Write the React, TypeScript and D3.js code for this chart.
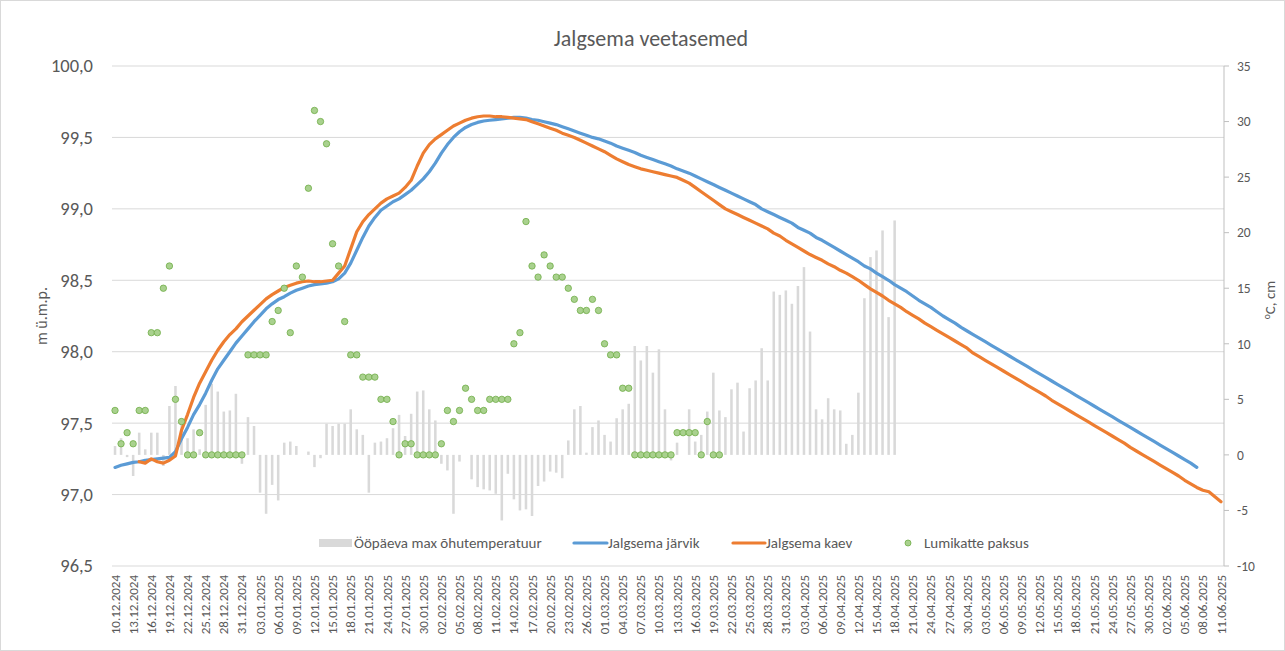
import React from "react";
import * as d3 from "d3";

// kuupäevad (päevane samm) 10.12.2024 – 11.06.2025
const paevad = d3.timeDay.range(new Date(2024, 11, 10), new Date(2025, 5, 12));
const kuupaevad = paevad.map(d3.timeFormat("%d.%m.%Y"));
const tickLabels = kuupaevad.filter((_, i) => i % 3 === 0);

const leftTicks = [96.5, 97, 97.5, 98, 98.5, 99, 99.5, 100];
const rightTicks = [-10, -5, 0, 5, 10, 15, 20, 25, 30, 35];

// Ööpäeva max õhutemperatuur, alates 10.12.2024
const temperatuur = [
  0.8, 1.5, -0.2, -1.9, 2.0, 0.5, 2.0, 2.0, -1.0, 4.4,
  6.2, 3.3, 1.5, 2.3, 0.5, 4.5, 6.4, 5.7, 3.9, 4.0,
  5.5, -0.8, 3.4, 2.6, -3.4, -5.3, -2.7, -4.1, 1.1, 1.2,
  0.8, 0, 0.3, -1.1, -0.3, 2.8, 2.6, 2.8, 2.8, 4.1,
  2.3, 1.8, -3.4, 1.1, 1.2, 1.5, 2.4, 3.6, 1.7, 3.7,
  5.7, 5.8, 4.1, 3.1, -0.8, -1.4, -5.3, -0.6, 0, -2.2,
  -2.9, -3.1, -3.2, -3.5, -5.9, -1.7, -4.0, -5.0, -4.9, -5.5,
  -2.8, -2.4, -1.5, -1.6, -2.1, 1.3, 4.1, 4.4, 0.2, 2.5,
  3.1, 1.8, 1.2, 3.3, 4.1, 4.6, 9.8, 8.5, 9.8, 7.4,
  9.5, 4.1, -0.5, 1.1, 0, 4.1, 1.2, 1.8, 3.9, 7.4,
  4.0, 3.4, 5.9, 6.5, 2.1, 6.0, 6.7, 9.6, 6.7, 14.7,
  14.4, 14.8, 13.6, 15.2, 16.9, 11.1, 4.1, 3.2, 5.1, 4.1,
  4.0, 1.0, 1.8, 5.6, 14.1, 17.8, 18.4, 20.2, 12.4, 21.1,
];

// Lumikatte paksus (cm), alates 10.12.2024
const lumi = [
  4, 1, 2, 1, 4, 4, 11, 11, 15, 17,
  5, 3, 0, 0, 2, 0, 0, 0, 0, 0,
  0, 0, 9, 9, 9, 9, 12, 13, 15, 11,
  17, 16, 24, 31, 30, 28, 19, 17, 12, 9,
  9, 7, 7, 7, 5, 5, 3, 0, 1, 1,
  0, 0, 0, 0, 1, 4, 3, 4, 6, 5,
  4, 4, 5, 5, 5, 5, 10, 11, 21, 17,
  16, 18, 17, 16, 16, 15, 14, 13, 13, 14,
  13, 10, 9, 9, 6, 6, 0, 0, 0, 0,
  0, 0, 0, 2, 2, 2, 2, 0, 3, 0,
  0,
];

// Jalgsema järvik (m ü.m.p.), alates 10.12.2024
const jarvik = [
  97.19, 97.205, 97.215, 97.225, 97.23, 97.24, 97.245, 97.25, 97.255, 97.26,
  97.30, 97.39, 97.47, 97.56, 97.63, 97.71, 97.80, 97.88, 97.94, 98.00,
  98.06, 98.11, 98.16, 98.21, 98.255, 98.30, 98.335, 98.365, 98.385, 98.41,
  98.43, 98.445, 98.46, 98.47, 98.475, 98.48, 98.49, 98.51, 98.55, 98.62,
  98.71, 98.80, 98.88, 98.94, 98.99, 99.02, 99.05, 99.07, 99.10, 99.13,
  99.17, 99.21, 99.26, 99.32, 99.39, 99.45, 99.50, 99.54, 99.57, 99.59,
  99.605, 99.615, 99.62, 99.625, 99.63, 99.635, 99.64, 99.64, 99.635, 99.625,
  99.62, 99.61, 99.60, 99.59, 99.575, 99.56, 99.545, 99.53, 99.515, 99.50,
  99.49, 99.475, 99.46, 99.44, 99.425, 99.41, 99.395, 99.375, 99.36, 99.345,
  99.33, 99.315, 99.30, 99.28, 99.265, 99.25, 99.23, 99.21, 99.19, 99.17,
  99.15, 99.13, 99.11, 99.09, 99.07, 99.05, 99.03, 99.00, 98.98, 98.96,
  98.94, 98.92, 98.90, 98.87, 98.85, 98.83, 98.80, 98.78, 98.755, 98.73,
  98.705, 98.68, 98.655, 98.63, 98.60, 98.58, 98.55, 98.525, 98.50, 98.47,
  98.445, 98.42, 98.39, 98.36, 98.335, 98.31, 98.28, 98.25, 98.225, 98.20,
  98.17, 98.145, 98.12, 98.095, 98.07, 98.045, 98.02, 97.995, 97.97, 97.945,
  97.92, 97.895, 97.87, 97.845, 97.82, 97.795, 97.77, 97.745, 97.72, 97.695,
  97.67, 97.645, 97.62, 97.595, 97.57, 97.545, 97.52, 97.495, 97.47, 97.445,
  97.42, 97.395, 97.37, 97.345, 97.32, 97.295, 97.27, 97.245, 97.22, 97.19,
];

// Jalgsema kaev (m ü.m.p.), alates 14.12.2024
const kaevAlgus = "14.12.2024";
const kaev = [
  97.23, 97.22, 97.25, 97.23, 97.22, 97.24,
  97.27, 97.45, 97.56, 97.68, 97.78, 97.86, 97.94, 98.01, 98.07, 98.12,
  98.16, 98.21, 98.25, 98.29, 98.33, 98.37, 98.40, 98.425, 98.45, 98.465,
  98.48, 98.49, 98.495, 98.49, 98.49, 98.495, 98.50, 98.55, 98.60, 98.72,
  98.84, 98.91, 98.96, 99.00, 99.04, 99.07, 99.09, 99.11, 99.15, 99.20,
  99.30, 99.39, 99.45, 99.49, 99.52, 99.55, 99.58, 99.60, 99.62, 99.635,
  99.645, 99.65, 99.65, 99.645, 99.645, 99.64, 99.635, 99.63, 99.625, 99.61,
  99.595, 99.58, 99.565, 99.55, 99.53, 99.515, 99.50, 99.48, 99.46, 99.44,
  99.42, 99.40, 99.375, 99.35, 99.33, 99.31, 99.295, 99.28, 99.27, 99.26,
  99.25, 99.24, 99.23, 99.22, 99.20, 99.18, 99.15, 99.12, 99.09, 99.06,
  99.03, 99.00, 98.98, 98.96, 98.94, 98.92, 98.90, 98.88, 98.86, 98.83,
  98.81, 98.78, 98.755, 98.73, 98.705, 98.68, 98.66, 98.64, 98.615, 98.595,
  98.57, 98.55, 98.525, 98.50, 98.47, 98.44, 98.415, 98.39, 98.36, 98.335,
  98.31, 98.28, 98.255, 98.23, 98.20, 98.175, 98.15, 98.125, 98.10, 98.075,
  98.05, 98.025, 97.99, 97.965, 97.94, 97.915, 97.89, 97.865, 97.84, 97.815,
  97.79, 97.765, 97.74, 97.715, 97.69, 97.66, 97.635, 97.61, 97.585, 97.56,
  97.535, 97.51, 97.485, 97.46, 97.435, 97.41, 97.385, 97.36, 97.33, 97.305,
  97.28, 97.255, 97.23, 97.205, 97.18, 97.155, 97.13, 97.10, 97.075, 97.05,
  97.03, 97.02, 96.985, 96.95,
];

const W = 1285;
const H = 651;
const plot = { left: 112, right: 1224, top: 66, bottom: 566 };
const font = "Carlito, Calibri, Lato, sans-serif";
const textColor = "#595959";
const gridColor = "#d9d9d9";
const blue = "#5b9bd5";
const orange = "#ed7d31";
const barColor = "#d9d9d9";
const dotFill = "#a9d18e";
const dotStroke = "#70ad47";

type Pt = { date: string; v: number };

export default function App() {
  const x = d3.scaleBand<string>().domain(kuupaevad).range([plot.left, plot.right]);
  const bw = x.bandwidth();
  const cx = (d: string) => (x(d) as number) + bw / 2;
  const yL = d3.scaleLinear().domain([96.5, 100]).range([plot.bottom, plot.top]);
  const yR = d3.scaleLinear().domain([-10, 35]).range([plot.bottom, plot.top]);

  const series = (vals: number[], start: number): Pt[] =>
    vals.map((v, i) => ({ date: kuupaevad[start + i], v }));

  const tempPts = series(temperatuur, 0);
  const lumiPts = series(lumi, 0);
  const jarvikPts = series(jarvik, 0);
  const kaevPts = series(kaev, kuupaevad.indexOf(kaevAlgus));

  const line = d3
    .line<Pt>()
    .x((d) => cx(d.date))
    .y((d) => yL(d.v));

  const barW = bw * 0.42;
  const fmtL = (v: number) => v.toFixed(1).replace(".", ",");

  const legendY = 543;
  const legendFont = 15;

  return (
    <svg
      width={W}
      height={H}
      style={{ position: "absolute", left: 0, top: 0, background: "#fff" }}
      fontFamily={font}
    >
      <rect x={0.5} y={0.5} width={W - 1} height={H - 1} fill="#fff" stroke={gridColor} />

      <text x={651} y={46} textAnchor="middle" fontSize={22} fill={textColor}>
        Jalgsema veetasemed
      </text>

      {/* gridlines */}
      {leftTicks.map((t) => (
        <line
          key={t}
          x1={plot.left}
          x2={plot.right}
          y1={yL(t)}
          y2={yL(t)}
          stroke={gridColor}
          strokeWidth={1}
        />
      ))}
      {leftTicks.map((t) => (
        <text
          key={t}
          x={93}
          y={yL(t)}
          dy="0.35em"
          textAnchor="end"
          fontSize={18.5}
          fill={textColor}
        >
          {fmtL(t)}
        </text>
      ))}
      <text
        transform={`translate(41,316) rotate(-90)`}
        textAnchor="middle"
        dy="0.35em"
        fontSize={16}
        fill={textColor}
      >
        m ü.m.p.
      </text>

      {/* right axis */}
      <line x1={plot.right} x2={plot.right} y1={plot.top} y2={plot.bottom} stroke="#bfbfbf" />
      {rightTicks.map((t) => (
        <g key={t}>
          <line x1={plot.right} x2={plot.right + 5} y1={yR(t)} y2={yR(t)} stroke="#bfbfbf" />
          <text x={1237} y={yR(t)} dy="0.35em" fontSize={13.5} fill={textColor}>
            {t}
          </text>
        </g>
      ))}
      <text
        transform={`translate(1273,300) rotate(-90)`}
        textAnchor="middle"
        dy="0.35em"
        fontSize={15}
        fill={textColor}
      >
        <tspan fontSize={9.5} dy="-0.3em">o</tspan>
        <tspan dy="0.3em">C, cm</tspan>
      </text>

      {/* x labels */}
      {tickLabels.map((t) => (
        <text
          key={t}
          transform={`translate(${cx(t)},575) rotate(-90)`}
          textAnchor="end"
          dy="0.35em"
          fontSize={13}
          fill={textColor}
        >
          {t}
        </text>
      ))}

      {/* temperature bars */}
      {tempPts.map((d) =>
        d.v === 0 ? null : (
          <rect
            key={d.date}
            x={cx(d.date) - barW / 2}
            width={barW}
            y={yR(Math.max(0, d.v))}
            height={Math.abs(yR(d.v) - yR(0))}
            fill={barColor}
          />
        )
      )}

      {/* water levels */}
      <path d={line(jarvikPts) || ""} fill="none" stroke={blue} strokeWidth={3.2} strokeLinejoin="round" strokeLinecap="round" />
      <path d={line(kaevPts) || ""} fill="none" stroke={orange} strokeWidth={3.2} strokeLinejoin="round" strokeLinecap="round" />

      {/* snow */}
      {lumiPts.map((d) => (
        <circle
          key={d.date}
          cx={cx(d.date)}
          cy={yR(d.v)}
          r={3.2}
          fill={dotFill}
          stroke={dotStroke}
          strokeWidth={0.8}
        />
      ))}

      {/* legend */}
      <rect x={319} y={legendY - 4} width={33} height={8} fill={barColor} />
      <text x={354} y={legendY} dy="0.35em" fontSize={legendFont} fill={textColor}>
        Ööpäeva max õhutemperatuur
      </text>
      <line x1={574} x2={607} y1={legendY} y2={legendY} stroke={blue} strokeWidth={3.2} strokeLinecap="round" />
      <text x={608} y={legendY} dy="0.35em" fontSize={legendFont} fill={textColor}>
        Jalgsema järvik
      </text>
      <line x1={733} x2={765} y1={legendY} y2={legendY} stroke={orange} strokeWidth={3.2} strokeLinecap="round" />
      <text x={766} y={legendY} dy="0.35em" fontSize={legendFont} fill={textColor}>
        Jalgsema kaev
      </text>
      <circle cx={908} cy={legendY} r={3} fill={dotFill} stroke={dotStroke} strokeWidth={0.8} />
      <text x={924} y={legendY} dy="0.35em" fontSize={legendFont} fill={textColor}>
        Lumikatte paksus
      </text>
    </svg>
  );
}
